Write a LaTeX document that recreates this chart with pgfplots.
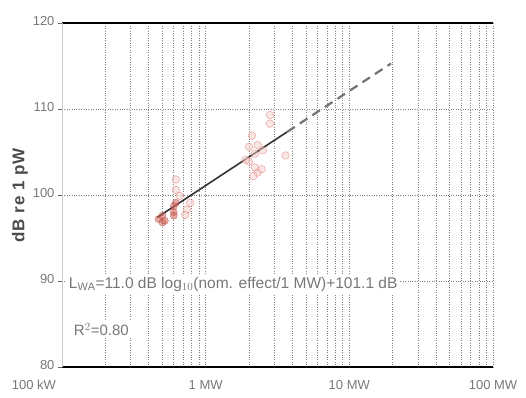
\documentclass[border=0pt]{standalone}
\usepackage{pgfplots}
\pgfplotsset{compat=1.18}
\usepackage{fontspec}
\setmainfont{Liberation Sans}
\definecolor{txt}{RGB}{120,120,120}
\definecolor{dred}{RGB}{190,60,50}
\definecolor{pinkr}{RGB}{225,120,110}
\begin{document}
\begin{tikzpicture}[x=1pt,y=1pt]
\useasboundingbox (-62pt,-30pt) rectangle (464pt,367pt);
\begin{axis}[
  at={(0,0)}, anchor=south west,
  scale only axis, width=431pt, height=344pt,
  xmode=log, xmin=0.1, xmax=100, ymin=80, ymax=120,
  /pgf/number format/assume math mode=true,
  xtick={0.1,1,10,100},
  xticklabels={{\makebox[0pt][r]{100 kW\hspace{6pt}}}, 1 MW, 10 MW, 100 MW},
  ytick={80,90,100,110,120},
  minor x tick num=0,
  xminorgrids=true, ymajorgrids=true, xmajorgrids=true,
  minor grid style={black!50, dotted, line width=0.6pt},
  major grid style={black!50, dotted, line width=0.6pt},
  tick label style={font=\fontsize{13}{14}\selectfont, text=txt},
  xticklabel style={yshift=-6pt},
  yticklabel style={yshift=2pt},
  ytick style={black!60, line width=0.6pt}, xtick style={draw=none},
  minor tick length=0pt,
  tick align=outside, major tick length=4pt,
  axis line style={draw=none},
  xtick pos=bottom, ytick pos=left,
  ylabel={\addfontfeature{LetterSpace=6}\textbf{dB re 1 pW}},
  ylabel style={font=\fontsize{17}{18}\selectfont, text=black!70, yshift=-2pt},
  clip=false,
]
\draw[black, line width=1.3pt] (rel axis cs:0,0) -- (rel axis cs:1,0);
\draw[black, line width=1.3pt] (rel axis cs:0,1) -- (rel axis cs:1,1);
\draw[black!20, line width=0.5pt] (rel axis cs:0,0) -- (rel axis cs:0,1);
\addplot[only marks, mark=*, mark size=3.8pt, draw=pinkr, fill=pinkr!35, opacity=0.5, line width=0.7pt] coordinates {
(0.62,101.8) (0.62,100.6) (0.66,99.9) (0.74,98.3) (0.72,97.7) (0.78,99.1)
(2.0,105.6) (2.1,106.9) (2.2,104.8) (2.2,103.2) (2.3,102.6) (2.0,103.9)
(2.5,105.2) (2.45,103.0) (2.8,109.3) (2.8,108.3) (3.6,104.6) (1.9,104.1)
(2.3,105.8) (2.15,102.2)
};
\addplot[only marks, mark=*, mark size=3.6pt, draw=dred, fill=dred!80, opacity=0.55] coordinates {
(0.47,97.2) (0.5,96.8) (0.5,97.6) (0.52,97.0) (0.6,98.0) (0.6,98.7) (0.62,99.1) (0.6,97.6)
};
\addplot[black!80, line width=1.6pt] coordinates {(0.46,97.39) (3.7,107.35)};
\addplot[black!55, line width=2.2pt, dash pattern=on 9pt off 6pt] coordinates {(3.7,107.35) (19.5,115.29)};
\node[anchor=west, text=txt, fill=white, inner sep=2pt, font=\fontsize{15.5}{17}\selectfont] at (axis cs:0.108,89.6) {L$_{\mathrm{WA}}$=11.0 dB log$_{10}$(nom. effect/1 MW)+101.1 dB};
\node[anchor=west, text=txt, fill=white, inner sep=2pt, font=\fontsize{15}{17}\selectfont] at (axis cs:0.117,84.4) {R$^2$=0.80};
\end{axis}
\end{tikzpicture}
\end{document}
